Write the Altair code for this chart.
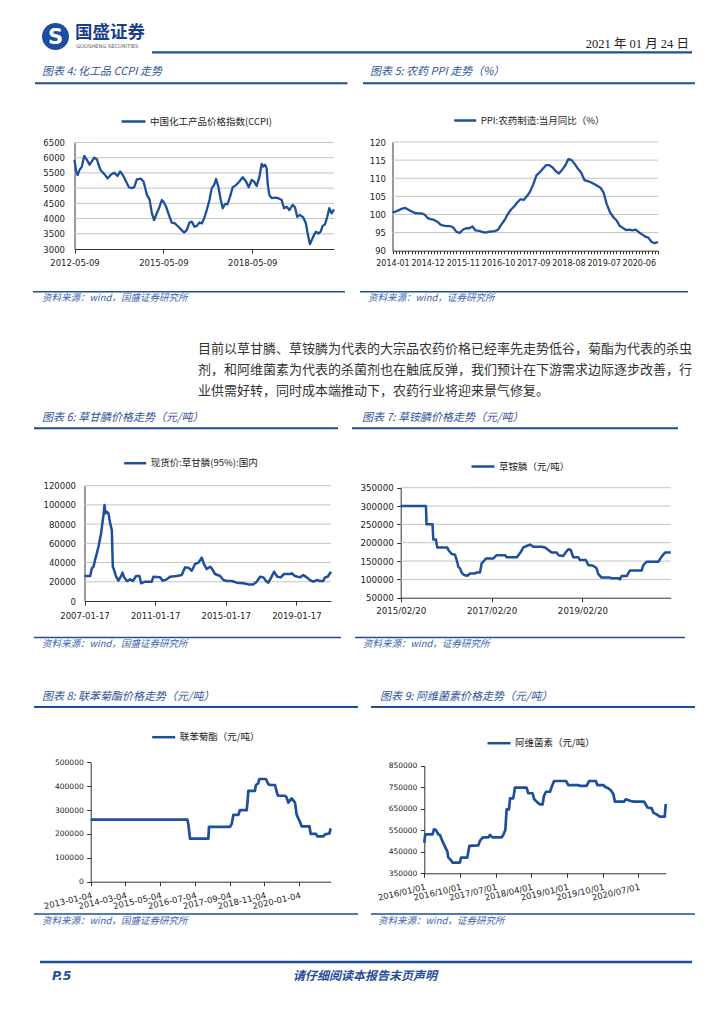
import altair as alt
import pandas as pd

# ------------------------------------------------------------------ data
ccpi_series = "中国化工产品价格指数(CCPI)"
ccpi_dates = [
    "2012-05-09", "2012-05-30", "2012-06-16", "2012-07-10", "2012-08-08", "2012-09-06", "2012-10-09", "2012-11-10", "2012-12-09", "2013-01-07",
    "2013-02-09", "2013-03-01", "2013-03-30", "2013-05-10", "2013-06-20", "2013-07-31", "2013-09-10", "2013-10-21", "2013-11-23", "2013-12-26",
    "2014-02-05", "2014-03-10", "2014-04-16", "2014-05-15", "2014-06-17", "2014-08-05", "2014-09-07", "2014-10-18", "2014-11-20", "2014-12-19",
    "2015-01-15", "2015-02-17", "2015-03-23", "2015-04-20", "2015-05-10", "2015-06-12", "2015-07-10", "2015-08-20", "2015-09-30", "2015-11-10",
    "2015-12-21", "2016-01-19", "2016-02-21", "2016-03-25", "2016-04-23", "2016-05-26", "2016-06-24", "2016-07-27", "2016-08-25", "2016-09-23",
    "2016-10-25", "2016-11-27", "2016-12-26", "2017-01-23", "2017-02-17", "2017-03-18", "2017-04-16", "2017-05-10", "2017-06-08", "2017-07-07",
    "2017-08-08", "2017-09-10", "2017-10-21", "2017-12-01", "2018-01-11", "2018-02-21", "2018-03-26", "2018-05-02", "2018-05-30", "2018-07-02",
    "2018-08-04", "2018-09-02", "2018-09-22", "2018-10-13", "2018-11-02", "2018-11-14", "2018-12-05", "2019-01-03", "2019-02-13", "2019-03-26",
    "2019-05-06", "2019-06-04", "2019-07-07", "2019-08-08", "2019-09-18", "2019-10-17", "2019-11-14", "2019-12-17", "2020-01-27", "2020-02-29",
    "2020-03-29", "2020-04-19", "2020-05-10", "2020-06-08", "2020-07-02", "2020-07-31", "2020-08-29", "2020-09-22", "2020-10-21", "2020-11-18",
    "2020-12-13", "2021-01-11", "2021-02-09",
]
ccpi_values = [
    5930, 5550, 5430, 5600, 5710, 6060, 5930, 5770, 5880, 6000,
    5950, 5770, 5580, 5470, 5320, 5440, 5510, 5400, 5550, 5430,
    5210, 5030, 5000, 5030, 5290, 5310, 5220, 4780, 4630, 4170,
    3950, 4170, 4390, 4610, 4560, 4390, 4170, 3870, 3840, 3730,
    3620, 3540, 3620, 3870, 3900, 3730, 3760, 3870, 3840, 4010,
    4280, 4610, 5000, 5100, 5300, 5030, 4610, 4340, 4480, 4470,
    4720, 5030, 5100, 5220, 5360, 5220, 5030, 5270, 5220, 5070,
    5360, 5800, 5710, 5770, 5650, 5160, 4780, 4670, 4690, 4670,
    4610, 4340, 4390, 4280, 4450, 4370, 4060, 4120, 4040, 3840,
    3400, 3160, 3290, 3460, 3570, 3510, 3570, 3760, 3810, 4060,
    4340, 4170, 4300,
]
ccpi_ticks = ["2012-05-09", "2015-05-09", "2018-05-09"]

ppi_series = "PPI:农药制造:当月同比（%）"
ppi_months = [f"{y}-{m:02d}" for y in range(2014, 2021) for m in range(1, 13)]
ppi_values = [
    100.6, 100.8, 101.2, 101.6, 101.8, 101.3, 100.8, 100.4, 100.3, 100.3,
    100.0, 99.0, 98.7, 98.5, 98.0, 97.2, 96.9, 96.8, 96.8, 96.4,
    95.2, 94.9, 95.8, 96.2, 96.2, 96.7, 95.6, 95.5, 95.2, 95.0,
    95.2, 95.3, 95.4, 95.8, 97.2, 98.4, 100.0, 101.3, 102.2, 103.3,
    104.2, 104.0, 105.0, 106.3, 108.3, 110.8, 111.6, 112.6, 113.6, 113.6,
    113.0, 112.0, 111.3, 112.3, 113.5, 115.3, 115.0, 113.9, 112.6, 111.5,
    109.5, 109.2, 108.9, 108.4, 107.9, 107.4, 106.0, 102.8, 100.6, 99.3,
    98.4, 96.9, 96.3, 95.7, 95.8, 95.6, 95.8, 95.1, 94.5, 93.9,
    93.6, 92.4, 92.1, 92.4,
]
ppi_tick_labels = ["2014-01", "2014-12", "2015-11", "2016-10", "2017-09", "2018-08", "2019-07", "2020-06"]

gly_series = "现货价:草甘膦(95%):国内"
gly_dates = [
    "2007-01-17", "2007-05-14", "2007-06-18", "2007-07-22", "2007-08-26", "2007-09-29", "2007-11-02", "2007-12-06", "2007-12-27", "2008-01-17",
    "2008-02-14", "2008-03-06", "2008-03-26", "2008-04-23", "2008-05-27", "2008-07-01", "2008-08-04", "2008-08-25", "2008-09-21", "2008-11-01",
    "2008-12-19", "2009-02-06", "2009-03-13", "2009-04-17", "2009-06-11", "2009-08-19", "2009-10-13", "2009-12-20", "2010-02-27", "2010-04-03",
    "2010-06-24", "2010-11-09", "2010-12-13", "2011-04-30", "2011-06-24", "2011-09-14", "2011-11-22", "2012-04-08", "2012-07-21", "2012-09-28",
    "2012-12-06", "2013-02-14", "2013-04-23", "2013-07-01", "2013-09-08", "2013-10-26", "2013-12-20", "2014-02-27", "2014-04-03", "2014-06-10",
    "2014-09-22", "2014-11-29", "2015-02-06", "2015-05-21", "2015-09-01", "2016-01-17", "2016-04-30", "2016-08-11", "2016-10-19", "2016-12-27",
    "2017-03-06", "2017-04-30", "2017-06-18", "2017-08-05", "2017-10-13", "2017-12-20", "2018-02-27", "2018-05-07", "2018-09-08", "2018-10-13",
    "2018-12-20", "2019-04-03", "2019-06-11", "2019-08-19", "2019-10-26", "2020-01-03", "2020-03-13", "2020-05-21", "2020-07-28", "2020-09-01",
    "2020-10-26", "2021-01-03",
]
gly_values = [
    26000, 26000, 34000, 35700, 43300, 49600, 56500, 65200, 70400, 79000,
    89400, 99800, 91200, 92900, 91200, 80800, 73800, 35700, 32200, 25300,
    21100, 25300, 29500, 24600, 20800, 22500, 20800, 26000, 26000, 18400,
    20100, 20100, 25300, 24600, 21100, 22500, 25300, 26000, 27000, 35000,
    34700, 31500, 38500, 39900, 45100, 38100, 33300, 35700, 34000, 28100,
    26000, 21800, 20800, 20800, 19100, 18400, 17300, 17300, 20100, 25300,
    24600, 20800, 19100, 23600, 30500, 25300, 24600, 28100, 28100, 28800,
    26000, 24600, 27000, 24600, 21800, 20100, 21800, 20800, 20800, 24600,
    25300, 30500,
]
gly_ticks = ["2007-01-17", "2011-01-17", "2015-01-17", "2019-01-17"]

glu_series = "草铵膦（元/吨）"
glu_dates = [
    "2015-02-20", "2015-09-11", "2015-09-16", "2015-11-03", "2015-11-09", "2015-11-30", "2015-12-11", "2016-03-01", "2016-03-09", "2016-04-05",
    "2016-05-02", "2016-05-15", "2016-05-29", "2016-06-11", "2016-06-25", "2016-07-13", "2016-08-09", "2016-08-31", "2016-10-10", "2016-10-23",
    "2016-11-19", "2016-12-02", "2016-12-15", "2017-01-06", "2017-03-06", "2017-04-02", "2017-06-08", "2017-06-21", "2017-09-10", "2017-10-06",
    "2017-11-02", "2017-11-29", "2017-12-26", "2018-01-22", "2018-03-30", "2018-04-26", "2018-05-22", "2018-06-18", "2018-07-28", "2018-08-11",
    "2018-09-20", "2018-10-03", "2018-10-30", "2018-11-18", "2018-12-09", "2019-01-18", "2019-02-01", "2019-03-20", "2019-04-08", "2019-05-18",
    "2019-06-14", "2019-06-27", "2019-07-24", "2019-09-29", "2019-10-13", "2019-12-05", "2019-12-18", "2020-01-01", "2020-02-11", "2020-03-08",
    "2020-06-10", "2020-06-24", "2020-07-20", "2020-10-22", "2020-11-18", "2020-12-15", "2021-01-30",
]
glu_values = [
    300000, 300000, 250000, 250000, 209000, 209000, 187000, 187000, 180000, 169000,
    167000, 153000, 134000, 130000, 118000, 112000, 110000, 116000, 116000, 119000,
    119000, 144000, 148000, 157000, 157000, 166000, 166000, 160000, 160000, 171000,
    187000, 191000, 195000, 189000, 189000, 187000, 180000, 173000, 173000, 166000,
    164000, 171000, 182000, 180000, 160000, 160000, 153000, 153000, 139000, 137000,
    130000, 115000, 105000, 105000, 103000, 103000, 100000, 109000, 109000, 124000,
    124000, 139000, 148000, 148000, 162000, 173000, 173000,
]
glu_ticks = ["2015-02-20", "2017-02-20", "2019-02-20"]

bif_series = "联苯菊酯（元/吨）"
bif_dates = [
    "2013-01-04", "2016-04-04", "2016-04-16", "2016-05-06", "2016-12-16", "2016-12-24", "2017-09-08", "2017-09-28", "2017-10-19", "2017-12-19",
    "2018-01-08", "2018-03-31", "2018-04-12", "2018-04-20", "2018-07-10", "2018-07-22", "2018-08-20", "2018-09-02", "2018-11-22", "2018-12-20",
    "2019-01-10", "2019-03-13", "2019-04-11", "2019-04-23", "2019-07-13", "2019-08-03", "2019-08-23", "2019-10-03", "2019-11-13", "2019-12-03",
    "2019-12-24", "2020-01-13", "2020-02-03", "2020-05-08", "2020-05-24", "2020-07-28", "2020-08-13", "2020-10-26", "2020-11-15", "2021-01-08",
    "2021-01-24",
]
bif_values = [
    260000, 260000, 237000, 180000, 180000, 230000, 230000, 241000, 280000, 280000,
    300000, 300000, 339000, 380000, 380000, 405000, 412000, 430000, 430000, 409000,
    405000, 405000, 367000, 360000, 360000, 353000, 331000, 349000, 331000, 282000,
    265000, 251000, 232000, 232000, 200000, 200000, 190000, 190000, 198000, 202000,
    223000,
]
bif_ticks = ["2013-01-04", "2014-03-04", "2015-05-04", "2016-07-04", "2017-09-04", "2018-11-04", "2020-01-04"]

aba_series = "阿维菌素（元/吨）"
aba_dates = [
    "2016-01-01", "2016-01-08", "2016-03-04", "2016-03-15", "2016-03-31", "2016-04-17", "2016-04-30", "2016-05-21", "2016-06-08", "2016-06-26",
    "2016-07-03", "2016-07-21", "2016-08-06", "2016-10-01", "2016-10-09", "2016-11-26", "2016-12-12", "2017-02-19", "2017-03-04", "2017-03-25",
    "2017-05-07", "2017-05-19", "2017-06-07", "2017-08-17", "2017-08-29", "2017-09-14", "2017-09-24", "2017-10-12", "2017-10-20", "2017-11-14",
    "2017-11-27", "2018-02-24", "2018-03-09", "2018-04-11", "2018-04-24", "2018-05-12", "2018-06-07", "2018-06-27", "2018-07-07", "2018-07-23",
    "2018-08-23", "2018-09-05", "2018-09-23", "2018-12-24", "2019-01-10", "2019-03-28", "2019-04-10", "2019-05-31", "2019-06-20", "2019-08-10",
    "2019-08-21", "2019-10-06", "2019-10-19", "2019-11-13", "2019-12-01", "2019-12-22", "2020-01-03", "2020-03-13", "2020-03-26", "2020-05-04",
    "2020-05-24", "2020-08-14", "2020-09-09", "2020-10-12", "2020-10-24", "2020-11-18", "2020-12-14", "2021-01-20", "2021-01-27",
]
aba_values = [
    492000, 531000, 531000, 554000, 551000, 531000, 528000, 497000, 474000, 451000,
    424000, 412000, 400000, 400000, 423000, 423000, 477000, 480000, 502000, 517000,
    517000, 528000, 517000, 517000, 528000, 551000, 647000, 647000, 698000, 698000,
    748000, 748000, 722000, 722000, 694000, 683000, 670000, 670000, 709000, 729000,
    729000, 752000, 779000, 779000, 760000, 760000, 756000, 756000, 779000, 779000,
    760000, 760000, 752000, 745000, 737000, 718000, 683000, 683000, 694000, 686000,
    683000, 683000, 656000, 652000, 632000, 624000, 613000, 613000, 672000,
]
aba_ticks = ["2016-01-01", "2016-10-01", "2017-07-01", "2018-04-01", "2019-01-01", "2019-10-01", "2020-07-01"]

paragraph = [
    "目前以草甘膦、草铵膦为代表的大宗品农药价格已经率先走势低谷，菊酯为代表的杀虫",
    "剂，和阿维菌素为代表的杀菌剂也在触底反弹，我们预计在下游需求边际逐步改善，行",
    "业供需好转，同时成本端推动下，农药行业将迎来景气修复。",
]

# ------------------------------------------------------------------ style / geometry
W, H = 708, 1008          # drawing area; page offset is 8px
BLUE = "#1D4F9C"
RULE_C = "#1F4E9A"
TITLE_C = "#2F5597"
SRC_C = "#3B64AD"
GRID_C = "#C4C4C4"
CJK = "Noto Sans CJK SC"
NUM = "DejaVu Sans"


def px(v):
    return v - 8


def dt(s):
    y, m, d = (int(v) for v in s.split("-"))
    return alt.DateTime(year=y, month=m, date=d, utc=True)


def legend(lx, ly, length):
    # ly is the page y of the legend line; the legend row is `length` px tall
    return alt.Legend(orient="none", legendX=px(lx), legendY=px(ly) - length / 2, title=None,
                      symbolType="stroke", symbolSize=length * length,
                      symbolStrokeWidth=2.5, labelFont=CJK, labelFontSize=9.5,
                      labelColor="#222", labelOffset=3, padding=0, labelLimit=400)


def grid_rules(yvals, yscale, yaxis, box):
    x0, y0, x1, y1 = box
    gdf = pd.DataFrame({"tick": yvals[1:]})
    return alt.Chart(gdf).mark_rule(color=GRID_C, strokeWidth=1).encode(
        y=alt.Y("tick:Q", scale=yscale, axis=yaxis),
        x=alt.value(px(x0)), x2=alt.value(px(x1)))


def time_panel(dates, values, series, ticks, fmt, ydom, yvals, box, leg,
               grid=True, yticks=False, ypad=7, angle=0, lsize=8.5, xlsize=None,
               xpad=5, sw=2.4):
    x0, y0, x1, y1 = box
    xscale = alt.Scale(type="utc", domain=[dt(dates[0]), dt(dates[-1])],
                       range=[px(x0), px(x1)])
    yscale = alt.Scale(domain=ydom, nice=False, zero=False, range=[px(y1), px(y0)])
    yaxis = alt.Axis(orient="left", offset=-px(x0), values=yvals, format="d",
                     title=None, grid=False, ticks=yticks,
                     tickSize=4 if yticks else 0, labelPadding=ypad,
                     labelFontSize=lsize)
    df = pd.DataFrame({"date": dates, "value": values, "series": series})
    xaxis_kw = dict(orient="bottom", offset=px(y1) - H, values=[dt(s) for s in ticks],
                    format=fmt, title=None, grid=False, ticks=True, tickSize=4,
                    labelPadding=xpad, labelFlush=False, labelOverlap=False,
                    labelFontSize=xlsize or lsize)
    if angle:
        xaxis_kw.update(labelAngle=angle, labelAlign="right", labelBaseline="top")
    else:
        xaxis_kw.update(labelAngle=0)
    line = alt.Chart(df).mark_line(strokeWidth=sw, strokeJoin="round").encode(
        x=alt.X("date:T", scale=xscale, axis=alt.Axis(**xaxis_kw)),
        y=alt.Y("value:Q", scale=yscale, axis=yaxis),
        color=alt.Color("series:N", scale=alt.Scale(range=[BLUE]), legend=leg),
    )
    if grid:
        return alt.layer(grid_rules(yvals, yscale, yaxis, box), line)
    return alt.layer(line)


# ------------------------------------------------------------------ panels (page boxes: left, top, right, bottom)
B4 = (74.5, 142.5, 334.0, 249.0)
B5 = (392.5, 142.0, 658.0, 250.7)
B6 = (84.5, 485.7, 331.0, 601.0)
B7 = (400.7, 487.7, 670.7, 597.7)
B8 = (90.7, 762.3, 330.7, 881.7)
B9 = (424.3, 765.7, 665.7, 873.3)

p4 = time_panel(ccpi_dates, ccpi_values, ccpi_series, ccpi_ticks, "%Y-%m-%d",
                [3000, 6500], list(range(3000, 6501, 500)), B4,
                legend(120, 120, 24), ypad=10, xpad=5.5, sw=2.3)

y5 = list(range(90, 121, 5))
y5scale = alt.Scale(domain=[90, 120], nice=False, zero=False, range=[px(B5[3]), px(B5[1])])
y5axis = alt.Axis(orient="left", offset=-px(B5[0]), values=y5, format="d", title=None,
                  grid=False, ticks=False, tickSize=0, labelPadding=7, labelFontSize=8.5)
ppi_df = pd.DataFrame({"month": ppi_months, "value": ppi_values, "series": ppi_series})
label_list = ",".join(f"'{s}'" for s in ppi_tick_labels)
p5_line = alt.Chart(ppi_df).mark_line(strokeWidth=2.3, strokeJoin="round").encode(
    x=alt.X("month:O", scale=alt.Scale(type="point", padding=0, range=[px(B5[0]), px(B5[2])]),
            axis=alt.Axis(orient="bottom", offset=px(B5[3]) - H, title=None, labelAngle=0,
                          labelOverlap=False, ticks=True, tickSize=3, labelPadding=6,
                          labelFontSize=8,
                          labelExpr=f"indexof([{label_list}], datum.value) >= 0 ? datum.value : ''")),
    y=alt.Y("value:Q", scale=y5scale, axis=y5axis),
    color=alt.Color("series:N", scale=alt.Scale(range=[BLUE]), legend=legend(452.7, 119, 22)),
)
p5 = alt.layer(grid_rules(y5, y5scale, y5axis, B5), p5_line)

p6 = time_panel(gly_dates, gly_values, gly_series, gly_ticks, "%Y-%m-%d",
                [0, 120000], list(range(0, 120001, 20000)), B6,
                legend(122.7, 461.7, 22), ypad=9, xpad=6, sw=2.5)

p7 = time_panel(glu_dates, glu_values, glu_series, glu_ticks, "%Y/%m/%d",
                [50000, 350000], list(range(50000, 350001, 50000)), B7,
                legend(470, 465, 23), yticks=True, ypad=3.5, xpad=5, sw=2.5, lsize=8.7)

p8 = time_panel(bif_dates, bif_values, bif_series, bif_ticks, "%Y-%m-%d",
                [0, 500000], list(range(0, 500001, 100000)), B8,
                legend(150.7, 735.7, 23), grid=False, yticks=True, ypad=3.5,
                angle=347, xpad=5, lsize=7.5, xlsize=8.5, sw=2.7)

p9 = time_panel(aba_dates, aba_values, aba_series, aba_ticks, "%Y/%m/%d",
                [350000, 850000], list(range(350000, 850001, 100000)), B9,
                legend(486, 741.7, 23), grid=False, yticks=True, ypad=3.5,
                angle=347, xpad=5, lsize=7.5, xlsize=8.5, sw=2.7)

# ------------------------------------------------------------------ decorations (page coordinates)
one = alt.Data(values=[{"k": 0}])


def T(x, y, s, size=11, color="#222", align="left", italic=False, bold=False, font=CJK):
    return alt.Chart(one).mark_text(
        text=s, align=align, baseline="middle", fontSize=size, color=color, font=font,
        fontStyle="italic" if italic else "normal", fontWeight="bold" if bold else "normal",
    ).encode(x=alt.value(px(x)), y=alt.value(px(y)))


def R(x1, x2, y, w=2.0, color=RULE_C):
    return alt.Chart(one).mark_rule(color=color, strokeWidth=w).encode(
        x=alt.value(px(x1)), x2=alt.value(px(x2)), y=alt.value(px(y)))


def title(x, y, s):
    return T(x, y, s, size=11, color=TITLE_C, italic=True)


def source(x, y, s):
    return T(x, y, s, size=9.5, color=SRC_C, italic=True)


SRC_L = "资料来源：wind，国盛证券研究所"
SRC_R = "资料来源：wind，证券研究所"

deco_layers = [
    alt.Chart(one).mark_circle(size=729, color="#1B4EA0", opacity=1).encode(
        x=alt.value(px(55.5)), y=alt.value(px(36.5))),
    T(55.5, 37.5, "S", size=21, color="white", align="center", bold=True, font=NUM),
    T(75, 33, "国盛证券", size=17.5, color="#1B3F8F", bold=True),
    T(76, 46, "GUOSHENG SECURITIES", size=5.2, color="#555", font=NUM),
    T(689, 43.5, "2021 年 01 月 24 日", size=12.5, color="#222", align="right",
      font="Liberation Serif, Noto Sans CJK SC"),
    R(152, 692, 52.3, 2.2),
    # row 1
    title(42, 71.7, "图表 4: 化工品 CCPI 走势"),
    title(370, 71.7, "图表 5: 农药 PPI 走势（%）"),
    R(35, 347.5, 83.3), R(363, 695, 83.3),
    R(33, 345, 291.7, 1.5), R(360, 688, 291.7, 1.5),
    source(42, 298, SRC_L), source(368, 298, SRC_R),
    # paragraph
    T(198, 349, paragraph[0], size=13, color="#333"),
    T(198, 370, paragraph[1], size=13, color="#333"),
    T(198, 391, paragraph[2], size=13, color="#333"),
    # row 2
    title(42, 417.7, "图表 6: 草甘膦价格走势（元/吨）"),
    title(362, 417.7, "图表 7: 草铵膦价格走势（元/吨）"),
    R(34, 338, 428.3), R(352, 678, 428.3),
    R(34, 341, 637.5, 1.5), R(355, 685, 637.5, 1.5),
    source(42, 644, SRC_L), source(363, 644, SRC_R),
    # row 3
    title(42, 696.5, "图表 8: 联苯菊酯价格走势（元/吨）"),
    title(380, 696.5, "图表 9: 阿维菌素价格走势（元/吨）"),
    R(34, 358, 707), R(371, 695, 707),
    R(34, 358, 914, 1.5), R(371, 695, 914, 1.5),
    source(42, 921, SRC_L), source(378, 921, SRC_R),
    # footer
    R(40, 692, 962, 2.5),
    T(52, 976, "P.5", size=12.5, color=RULE_C, italic=True, bold=True, font=NUM),
    T(365, 976, "请仔细阅读本报告末页声明", size=12, color=RULE_C, align="center",
      italic=True, bold=True),
]

chart = alt.layer(*deco_layers, p4, p5, p6, p7, p8, p9).resolve_scale(
    x="independent", y="independent", color="independent"
).resolve_axis(
    x="independent", y="independent"
).resolve_legend(
    color="independent"
).properties(
    width=W, height=H, padding=0, autosize=alt.AutoSizeParams(type="none")
).configure_view(stroke=None).configure_axis(
    labelFont=NUM, labelColor="#222", domainColor="#333", tickColor="#333",
    domainWidth=1,
)

chart.save("out.html", embed_options={"renderer": "svg", "actions": False})
